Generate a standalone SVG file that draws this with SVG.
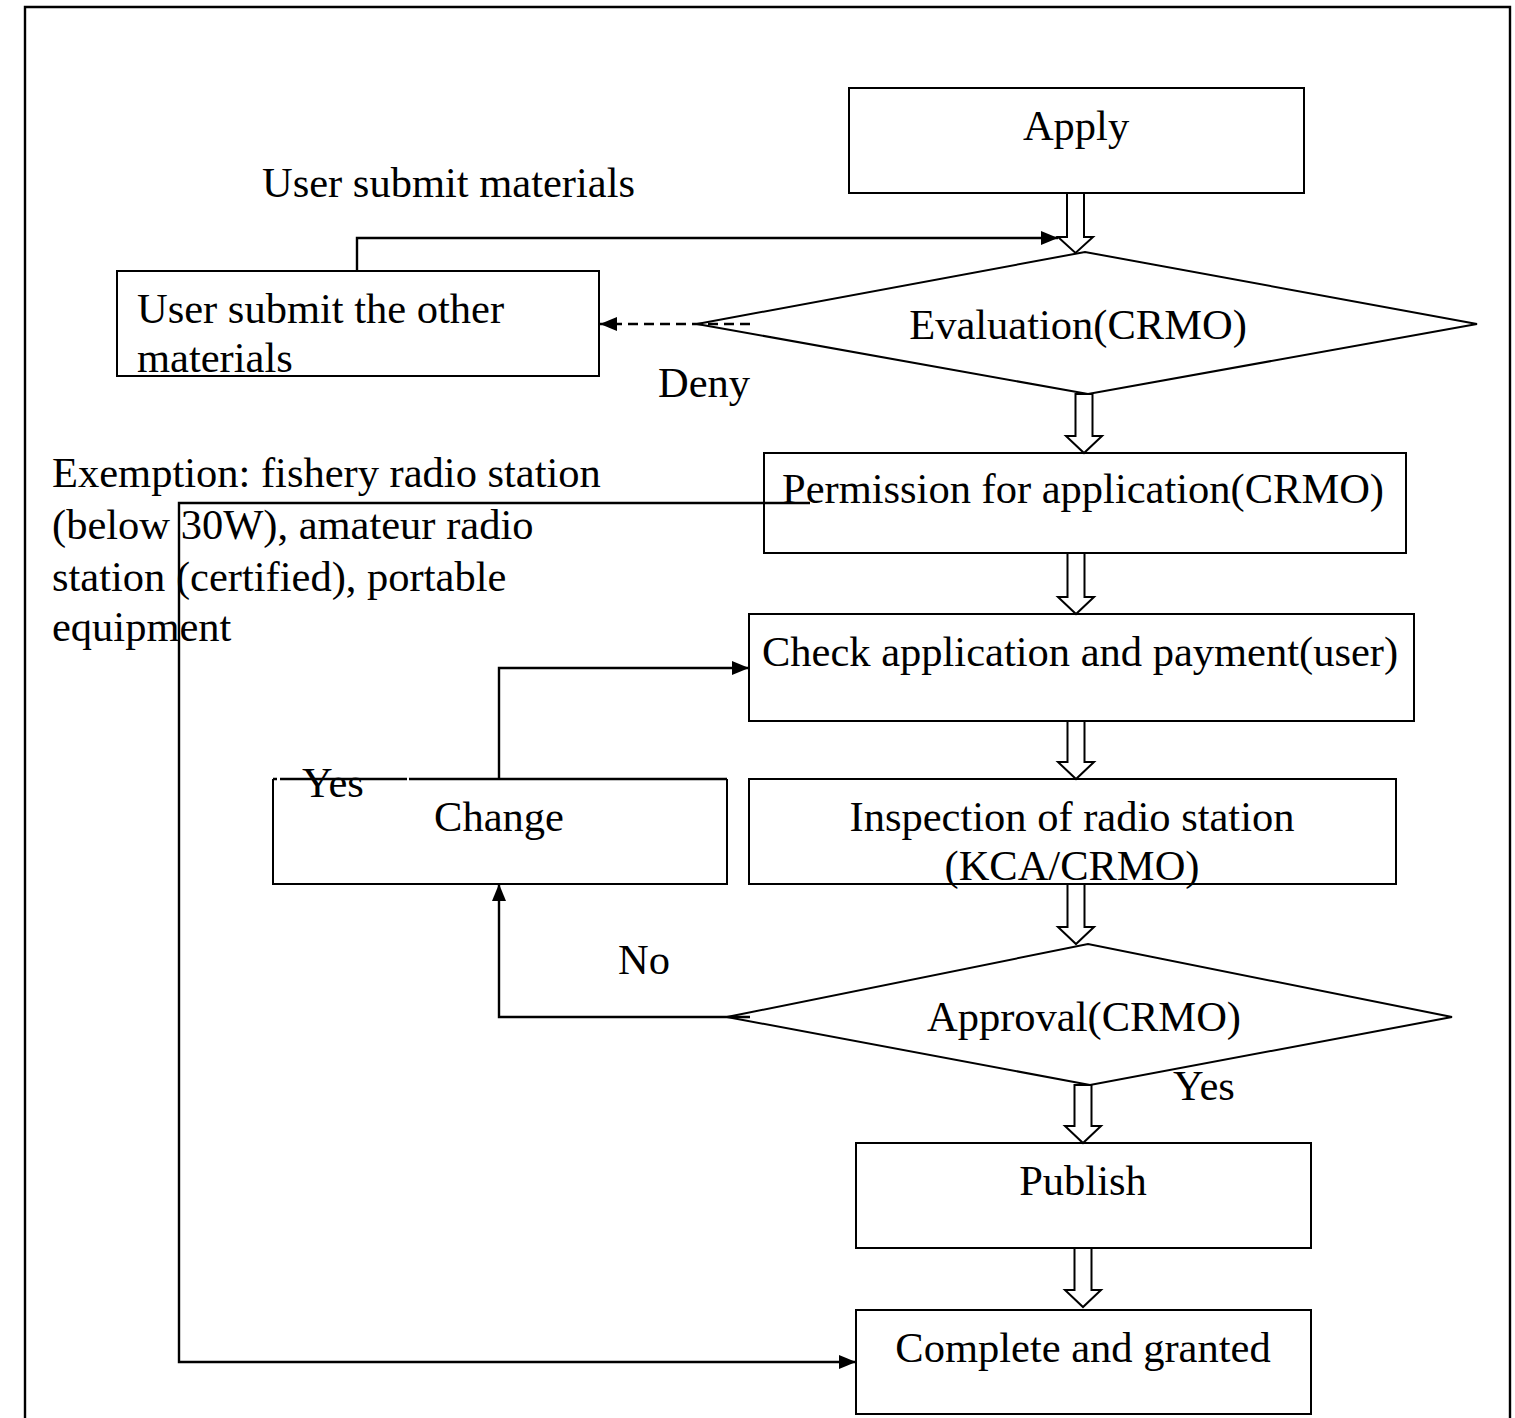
<svg xmlns="http://www.w3.org/2000/svg" width="1515" height="1418" viewBox="0 0 1515 1418">
  <style>
    .box { fill: #ffffff; stroke: #000000; stroke-width: 2; }
    .line { fill: none; stroke: #000000; stroke-width: 2.4; }
    .dash { fill: none; stroke: #000000; stroke-width: 2.4; stroke-dasharray: 10 6; }
    .hollow { fill: #ffffff; stroke: #000000; stroke-width: 2; stroke-linejoin: miter; }
    text { font-family: "Liberation Serif", "Times New Roman", serif; font-size: 42.5px; fill: #000000; }
    .mid { text-anchor: middle; }
  </style>
  <defs>
    <marker id="arrow" viewBox="0 0 17 14" refX="17" refY="7" markerWidth="17" markerHeight="14" markerUnits="userSpaceOnUse" orient="auto">
      <path d="M0,0 L17,7 L0,14 Z" fill="#000000"/>
    </marker>
  </defs>

  <rect width="1515" height="1418" fill="#ffffff"/>
  <!-- page frame -->
  <path class="line" d="M25,1418 V7 H1510 V1418"/>

  <!-- nodes -->
  <g id="apply">
    <rect class="box" x="849" y="88" width="455" height="105"/>
    <text class="mid" x="1076" y="140">Apply</text>
  </g>
  <g id="evaluation">
    <polygon class="box" points="697,324 1085,252 1477,324 1088,394"/>
    <text class="mid" x="1078" y="339">Evaluation(CRMO)</text>
  </g>
  <g id="other-materials">
    <rect class="box" x="117" y="271" width="482" height="105"/>
    <text x="137" y="323">User submit the other</text>
    <text x="137" y="372">materials</text>
  </g>
  <g id="permission">
    <rect class="box" x="764" y="453" width="642" height="100"/>
    <text x="782" y="503">Permission for application(CRMO)</text>
  </g>
  <g id="check">
    <rect class="box" x="749" y="614" width="665" height="107"/>
    <text x="762" y="666">Check application and payment(user)</text>
  </g>
  <g id="change">
    <path class="box" d="M273,779 V884 H727 V779"/>
    <path class="line" d="M273,779 H277 M280,779 H407 M409,779 H727"/>
    <text class="mid" x="499" y="831">Change</text>
  </g>
  <g id="inspection">
    <rect class="box" x="749" y="779" width="647" height="105"/>
    <text class="mid" x="1072" y="831">Inspection of radio station</text>
    <text class="mid" x="1072" y="880">(KCA/CRMO)</text>
  </g>
  <g id="approval">
    <polygon class="box" points="727,1017 1088,944 1452,1017 1090,1085"/>
    <text class="mid" x="1084" y="1031">Approval(CRMO)</text>
  </g>
  <g id="publish">
    <rect class="box" x="856" y="1143" width="455" height="105"/>
    <text class="mid" x="1083" y="1195">Publish</text>
  </g>
  <g id="complete">
    <rect class="box" x="856" y="1310" width="455" height="104"/>
    <text class="mid" x="1083" y="1362">Complete and granted</text>
  </g>

  <!-- connectors -->
  <g id="connectors">
    <!-- main flow: hollow block arrows -->
    <polygon class="hollow" points="1067,193 1084,193 1084,237 1093,237 1075.5,253 1058,237 1067,237 Z"/>
    <polygon class="hollow" points="1075.5,394 1092.5,394 1092.5,436 1102,436 1084,453 1066,436 1075.5,436 Z"/>
    <polygon class="hollow" points="1067.5,553 1084.5,553 1084.5,597 1094,597 1076,614 1058,597 1067.5,597 Z"/>
    <polygon class="hollow" points="1067.5,721 1084.5,721 1084.5,762 1094,762 1076,779 1058,762 1067.5,762 Z"/>
    <polygon class="hollow" points="1067.5,884 1084.5,884 1084.5,927 1094,927 1076,944 1058,927 1067.5,927 Z"/>
    <polygon class="hollow" points="1074.5,1085 1091.5,1085 1091.5,1126 1101,1126 1083,1143 1065,1126 1074.5,1126 Z"/>
    <polygon class="hollow" points="1074.5,1248 1091.5,1248 1091.5,1290 1101,1290 1083,1307 1065,1290 1074.5,1290 Z"/>

    <!-- resubmission back to evaluation -->
    <path class="line" d="M357,271 V238 H1058" marker-end="url(#arrow)"/>
    <!-- deny: back to the user -->
    <path class="dash" d="M750,324 H600" marker-end="url(#arrow)"/>
    <!-- change loop back to check -->
    <path class="line" d="M499,779 V668 H749" marker-end="url(#arrow)"/>
    <!-- not approved: change -->
    <path class="line" d="M750,1017 H499 V884" marker-end="url(#arrow)"/>
    <!-- exemption shortcut -->
    <path class="line" d="M810,503 H179 V1362 H856" marker-end="url(#arrow)"/>
  </g>

  <!-- free labels -->
  <g id="labels">
    <text x="262" y="197">User submit materials</text>
    <text x="658" y="397">Deny</text>
    <text x="52" y="487">Exemption: fishery radio station</text>
    <text x="52" y="539">(below 30W), amateur radio</text>
    <text x="52" y="591">station (certified), portable</text>
    <text x="52" y="641">equipment</text>
    <text x="302" y="797">Yes</text>
    <text x="618" y="974">No</text>
    <text x="1173" y="1100">Yes</text>
  </g>
</svg>
